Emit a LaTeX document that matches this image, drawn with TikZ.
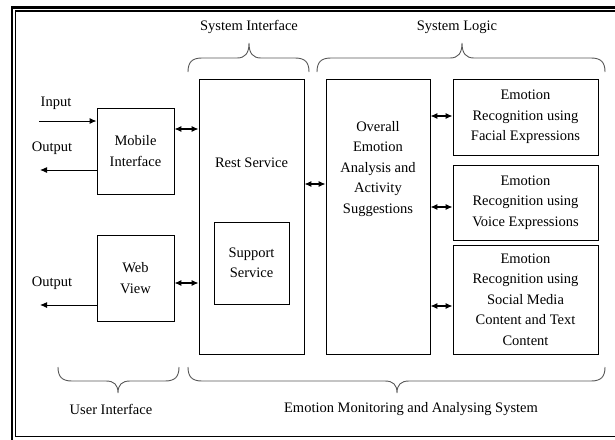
\documentclass[tikz,border=0pt]{standalone}
\usepackage{fontspec}
\setmainfont{Liberation Serif}
\usetikzlibrary{arrows.meta}
\newcommand\mybraceT[6]{% x1 xm x2 yend yline ytip
  \draw[bracestyle] (#1,#4) .. controls (#1,{#4+0.7*(#5-#4)}) and ({#1+4},#5) .. ({#1+14},#5)
    -- ({#2-12},#5) .. controls ({#2-4},#5) and (#2,{#5+0.3*(#6-#5)}) .. (#2,#6)
    .. controls (#2,{#5+0.3*(#6-#5)}) and ({#2+4},#5) .. ({#2+12},#5)
    -- ({#3-14},#5) .. controls ({#3-4},#5) and (#3,{#4+0.7*(#5-#4)}) .. (#3,#4);}
\begin{document}
\begin{tikzpicture}[x=1pt,y=-1pt,
  every node/.style={font=\fontsize{14.5}{20.5}\selectfont, inner sep=0pt},
  box/.style={draw, line width=0.9pt, align=center},
  dbl/.style={{Latex[length=7pt,width=6pt]}-{Latex[length=7pt,width=6pt]}, line width=1.1pt},
  sgl/.style={-{Latex[length=7pt,width=6pt]}, line width=1pt},
  bracestyle/.style={draw=black!65, line width=0.9pt},
  lbl/.style={align=center}]
\useasboundingbox (0,0) rectangle (615,439);
% frame
\draw[line width=2.4pt] (12,7.5) rectangle (630,445);
\draw[line width=1.1pt] (15.5,11) rectangle (626,436.5);
% boxes
\node[box, minimum width=77pt, minimum height=86pt] (mobile) at (135.5,151) {Mobile\\Interface};
\node[box, minimum width=77pt, minimum height=86pt] (web) at (135.5,278) {Web\\View};
\node[box, minimum width=105pt, minimum height=275pt] (rest) at (251.5,216.5) {};
\node[lbl] (resttxt) at (251.5,163) {Rest Service};
\node[box, minimum width=75pt, minimum height=82pt] (support) at (251.5,263) {Support\\Service};
\node[box, minimum width=104pt, minimum height=275pt] (overall) at (378,216.5) {};
\node[lbl] (overalltxt) at (378,169) {Overall\\Emotion\\Analysis and\\Activity\\Suggestions};
\node[box, minimum width=145pt, minimum height=76pt] (facial) at (525.5,117) {Emotion\\Recognition using\\Facial Expressions};
\node[box, minimum width=145pt, minimum height=75pt] (voice) at (525.5,202.5) {Emotion\\Recognition using\\Voice Expressions};
\node[box, minimum width=145pt, minimum height=109pt] (social) at (525.5,299.5) {Emotion\\Recognition using\\Social Media\\Content and Text\\Content};
% outside coordinates
\coordinate (inp) at (39,121);
\coordinate (out1) at (40,170);
\coordinate (out2) at (40,305);
\node (inlbl) at (56,103) {Input};
\node (outlbl1) at (52,148) {Output};
\node (outlbl2) at (52,283) {Output};
% arrows
\draw[sgl] (inp) -- (mobile.west |- inp);
\draw[sgl] (mobile.west |- out1) -- (out1);
\draw[sgl] (web.west |- out2) -- (out2);
\draw[dbl] (mobile.east |- 0,129) -- (rest.west |- 0,129);
\draw[dbl] (web.east |- 0,283) -- (rest.west |- 0,283);
\draw[dbl] (rest.east |- 0,184) -- (overall.west |- 0,184);
\draw[dbl] (overall.east |- 0,116) -- (facial.west |- 0,116);
\draw[dbl] (overall.east |- 0,207) -- (voice.west |- 0,207);
\draw[dbl] (overall.east |- 0,306) -- (social.west |- 0,306);
% braces
\mybraceT{188}{249}{309}{72}{58}{43}
\mybraceT{317}{462}{605}{72}{58}{43}
\mybraceT{58}{118}{179}{367}{381}{393}
\mybraceT{188}{397}{605}{367}{381}{393}
\node (sitxt) at (249,27) {System Interface};
\node (sltxt) at (457,27) {System Logic};
\node (uitxt) at (111,409) {User Interface};
\node (emtxt) at (411,409) {Emotion Monitoring and Analysing System};
\end{tikzpicture}
\end{document}
